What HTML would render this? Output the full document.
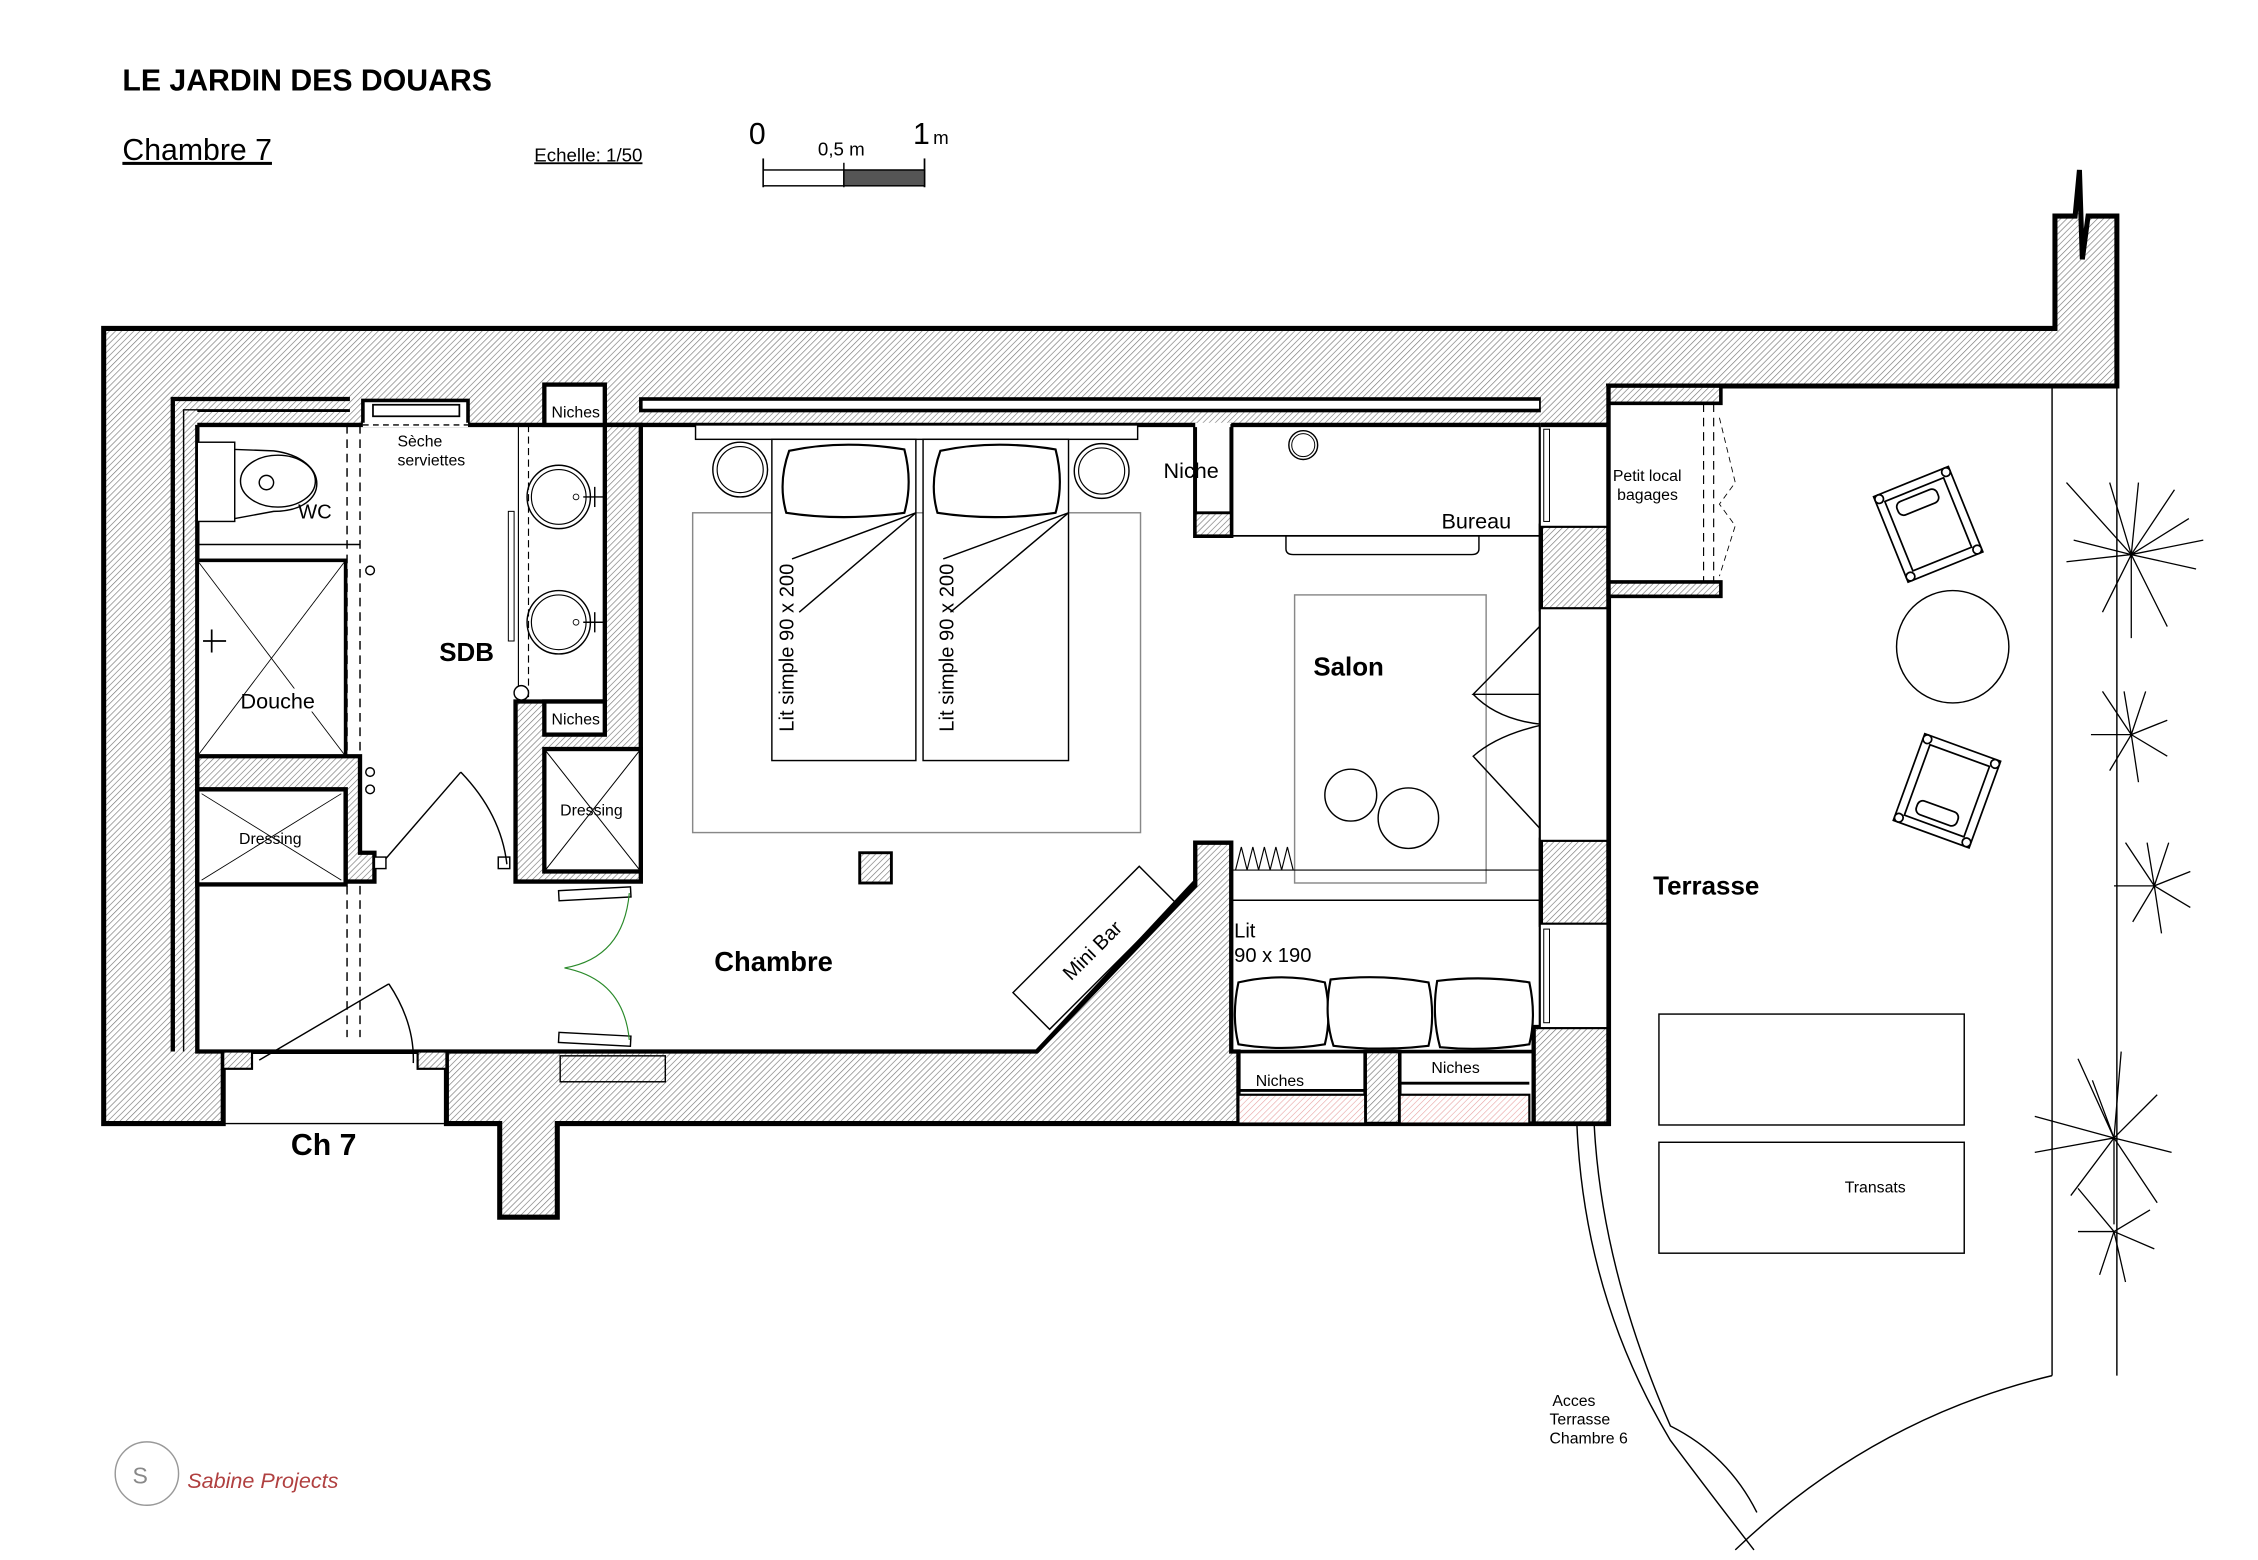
<!DOCTYPE html>
<html><head><meta charset="utf-8"><style>
html,body{margin:0;padding:0;background:#fff}
svg{display:block}
text{font-family:"Liberation Sans",Arial,sans-serif;fill:#000}
</style></head><body>
<svg width="2258" height="1560" viewBox="0 0 1568 1083" preserveAspectRatio="none" xmlns="http://www.w3.org/2000/svg">
<defs>
<pattern id="h" width="3" height="3" patternUnits="userSpaceOnUse" patternTransform="rotate(45)">
<rect width="3" height="3" fill="#fff"/><line x1="0" y1="0" x2="0" y2="3" stroke="#777" stroke-width="0.9"/>
</pattern>
<pattern id="p" width="3" height="3" patternUnits="userSpaceOnUse" patternTransform="rotate(45)">
<rect width="3" height="3" fill="#fff"/><line x1="0" y1="0" x2="0" y2="3" stroke="#e8a0a0" stroke-width="0.8"/>
</pattern>
</defs>

<text x="85" y="63" font-size="21" font-weight="bold">LE JARDIN DES DOUARS</text>
<text x="85" y="111" font-size="21" text-decoration="underline">Chambre 7</text>
<text x="371" y="112" font-size="13" text-decoration="underline">Echelle: 1/50</text>
<text x="520" y="100" font-size="21">0</text>
<text x="634" y="100" font-size="21">1</text>
<text x="648" y="100" font-size="13">m</text>
<text x="568" y="108" font-size="13">0,5 m</text>
<line x1="530" y1="110" x2="530" y2="130" stroke="#000" stroke-width="1.2"/>
<line x1="586" y1="113" x2="586" y2="130" stroke="#000" stroke-width="1"/>
<line x1="642" y1="110" x2="642" y2="130" stroke="#000" stroke-width="1.2"/>
<rect x="530" y="118" width="56" height="11" fill="#fff" stroke="#000" stroke-width="1"/>
<rect x="586" y="118" width="56" height="11" fill="#555" stroke="#000" stroke-width="1"/>

<polygon points="72,228 1427,228 1427,150 1441,150 1444,118 1446,180 1450,150 1470,150 1470,268 1117,268 1117,780 387,780 387,845 347,845 347,780 310,780 310,730 155,730 155,780 72,780" fill="url(#h)" stroke="#000" stroke-width="3.5"/>

<polygon points="128,295 445,295 830,295 830,372 855,372 855,295 1070,295 1070,730 1065,730 1065,780 860,780 860,730 855,730 855,585 830,585 830,615 720,730 310,730 155,730 137,730 137,295" fill="#fff" stroke="#000" stroke-width="3"/>
<polyline points="120,730 120,277 243,277" fill="none" stroke="#000" stroke-width="3"/>
<polyline points="128,730 128,285 243,285" fill="none" stroke="#000" stroke-width="2"/>
<rect x="128" y="285" width="9" height="445" fill="url(#h)"/>
<line x1="137" y1="295" x2="137" y2="730" stroke="#000" stroke-width="3"/>
<rect x="445" y="277" width="625" height="8" fill="#fff" stroke="#000" stroke-width="2.5"/>
<rect x="252" y="278" width="73" height="17" fill="#fff" stroke="#000" stroke-width="2.5"/>
<rect x="259" y="281" width="60" height="8" fill="#fff" stroke="#000" stroke-width="1.2"/>
<line x1="252" y1="295" x2="325" y2="295" stroke="#fff" stroke-width="3"/>
<line x1="252" y1="295" x2="325" y2="295" stroke="#000" stroke-width="1" stroke-dasharray="4,3"/>

<polygon points="420,295 445,295 445,612 358,612 358,487 420,487" fill="url(#h)" stroke="#000" stroke-width="3"/>
<rect x="378" y="267" width="42" height="28" fill="#fff" stroke="#000" stroke-width="3"/>
<rect x="378" y="487" width="42" height="23" fill="#fff" stroke="#000" stroke-width="3"/>
<rect x="378" y="520" width="67" height="85" fill="#fff" stroke="#000" stroke-width="3"/>
<line x1="378" y1="520" x2="445" y2="605" stroke="#000" stroke-width="0.7"/>
<line x1="445" y1="520" x2="378" y2="605" stroke="#000" stroke-width="0.7"/>
<text x="383" y="290" font-size="11">Niches</text>
<text x="383" y="503" font-size="11">Niches</text>
<text x="389" y="566" font-size="11">Dressing</text>
<circle cx="388" cy="345" r="22" fill="none" stroke="#000" stroke-width="1"/><circle cx="388" cy="345" r="19" fill="none" stroke="#000" stroke-width="0.8"/>
<circle cx="388" cy="432" r="22" fill="none" stroke="#000" stroke-width="1"/><circle cx="388" cy="432" r="19" fill="none" stroke="#000" stroke-width="0.8"/>
<circle cx="400" cy="345" r="2" fill="none" stroke="#000" stroke-width="0.6"/><circle cx="400" cy="432" r="2" fill="none" stroke="#000" stroke-width="0.6"/>
<line x1="405" y1="345" x2="420" y2="345" stroke="#000"/><line x1="413" y1="338" x2="413" y2="352" stroke="#000"/>
<line x1="405" y1="432" x2="420" y2="432" stroke="#000"/><line x1="413" y1="425" x2="413" y2="439" stroke="#000"/>
<line x1="360" y1="295" x2="360" y2="480" stroke="#000" stroke-width="0.8"/>
<line x1="367" y1="295" x2="367" y2="487" stroke="#000" stroke-width="0.8" stroke-dasharray="5,3"/>
<rect x="353" y="355" width="4" height="90" fill="none" stroke="#000" stroke-width="0.7"/>
<circle cx="362" cy="481" r="5" fill="#fff" stroke="#000" stroke-width="1"/>
<text x="305" y="459" font-size="18" font-weight="bold">SDB</text>

<rect x="137" y="307" width="26" height="55" fill="#fff" stroke="#000" stroke-width="1"/>
<path d="M163,312 L190,313 C230,318 230,355 190,355 L163,360" fill="none" stroke="#000" stroke-width="1"/>
<ellipse cx="193" cy="334" rx="26" ry="18" fill="none" stroke="#000" stroke-width="1"/>
<circle cx="185" cy="335" r="5" fill="none" stroke="#000" stroke-width="1"/>
<text x="207" y="360" font-size="14">WC</text>
<line x1="241" y1="295" x2="241" y2="720" stroke="#000" stroke-width="1" stroke-dasharray="6,4"/>
<line x1="250" y1="295" x2="250" y2="720" stroke="#000" stroke-width="1" stroke-dasharray="6,4"/>
<text x="276" y="310" font-size="11">Sèche</text>
<text x="276" y="323" font-size="11">serviettes</text>
<line x1="137" y1="378" x2="250" y2="378" stroke="#000" stroke-width="1"/>
<rect x="137" y="389" width="103" height="136" fill="#fff" stroke="#000" stroke-width="2.5"/>
<line x1="137" y1="389" x2="240" y2="525" stroke="#000" stroke-width="0.6"/>
<line x1="240" y1="389" x2="137" y2="525" stroke="#000" stroke-width="0.6"/>
<line x1="141" y1="445" x2="157" y2="445" stroke="#000" stroke-width="1.2"/><line x1="147" y1="437" x2="147" y2="453" stroke="#000" stroke-width="1.2"/>
<rect x="175" y="478" width="48" height="16" fill="#fff"/>
<text x="167" y="492" font-size="15">Douche</text>
<circle cx="257" cy="396" r="3" fill="none" stroke="#000"/>
<circle cx="257" cy="536" r="3" fill="none" stroke="#000"/><circle cx="257" cy="548" r="3" fill="none" stroke="#000"/>
<polygon points="137,525 250,525 250,592 260,592 260,612 240,612 240,548 137,548" fill="url(#h)" stroke="#000" stroke-width="3"/>
<rect x="137" y="548" width="103" height="66" fill="#fff" stroke="#000" stroke-width="3"/>
<line x1="140" y1="551" x2="237" y2="611" stroke="#000" stroke-width="0.6"/><line x1="237" y1="551" x2="140" y2="611" stroke="#000" stroke-width="0.6"/>
<text x="166" y="586" font-size="11">Dressing</text>
<rect x="260" y="595" width="8" height="8" fill="#fff" stroke="#000" stroke-width="1"/>
<rect x="346" y="595" width="8" height="8" fill="#fff" stroke="#000" stroke-width="1"/>
<line x1="268" y1="596" x2="320" y2="536" stroke="#000" stroke-width="1"/>
<path d="M320,536 Q348,565 352,600" fill="none" stroke="#000" stroke-width="1"/>

<rect x="155" y="730" width="20" height="12" fill="url(#h)" stroke="#000" stroke-width="1.5"/>
<rect x="290" y="730" width="20" height="12" fill="url(#h)" stroke="#000" stroke-width="1.5"/>
<line x1="180" y1="736" x2="270" y2="683" stroke="#000" stroke-width="1"/>
<path d="M270,683 Q288,710 287,738" fill="none" stroke="#000" stroke-width="1"/>
<line x1="155" y1="780" x2="310" y2="780" stroke="#000" stroke-width="1"/>
<text x="202" y="802" font-size="21" font-weight="bold">Ch 7</text>

<rect x="388" y="617" width="50" height="7" fill="#fff" stroke="#000" stroke-width="1" transform="rotate(-3 413 620)"/>
<rect x="388" y="718" width="50" height="7" fill="#fff" stroke="#000" stroke-width="1" transform="rotate(3 413 721)"/>
<path d="M437,620 Q433,665 392,672 Q433,680 437,722" fill="none" stroke="#2a8a2a" stroke-width="0.8"/>
<rect x="389" y="733" width="73" height="18" fill="none" stroke="#000" stroke-width="1"/>

<rect x="481" y="356" width="311" height="222" fill="none" stroke="#888" stroke-width="1"/>
<rect x="483" y="295" width="307" height="10" fill="#fff" stroke="#000" stroke-width="1"/>
<rect x="536" y="305" width="100" height="223" fill="#fff" stroke="#000" stroke-width="1"/>
<rect x="641" y="305" width="101" height="223" fill="#fff" stroke="#000" stroke-width="1"/>
<path d="M548,313 Q585,305 628,312 Q634,335 628,356 Q585,362 546,356 Q540,335 548,313Z" fill="#fff" stroke="#000" stroke-width="1.5"/>
<path d="M653,313 Q690,305 733,312 Q739,335 733,356 Q690,362 651,356 Q645,335 653,313Z" fill="#fff" stroke="#000" stroke-width="1.5"/>
<polyline points="550,388 636,356 555,425 636,356" fill="none" stroke="#000" stroke-width="1"/>
<polyline points="655,388 742,356 660,425 742,356" fill="none" stroke="#000" stroke-width="1"/>
<circle cx="514" cy="326" r="19" fill="none" stroke="#000" stroke-width="1"/><circle cx="514" cy="326" r="16" fill="none" stroke="#000" stroke-width="0.8"/>
<circle cx="765" cy="327" r="19" fill="none" stroke="#000" stroke-width="1"/><circle cx="765" cy="327" r="16" fill="none" stroke="#000" stroke-width="0.8"/>
<text transform="translate(551,508) rotate(-90)" font-size="14">Lit simple 90 x 200</text>
<text transform="translate(662,508) rotate(-90)" font-size="14">Lit simple 90 x 200</text>
<rect x="597" y="592" width="22" height="21" fill="url(#h)" stroke="#000" stroke-width="2"/>
<text x="496" y="674" font-size="19" font-weight="bold">Chambre</text>
<g transform="translate(760,658) rotate(-45)">
<rect x="-62" y="-18" width="124" height="36" fill="#fff" stroke="#000" stroke-width="1"/>
<text x="-28" y="5" font-size="14">Mini Bar</text>
</g>
<line x1="830" y1="612" x2="720" y2="730" stroke="#000" stroke-width="3"/>

<rect x="830" y="295" width="25" height="77" fill="#fff" stroke="#000" stroke-width="2.5"/>
<line x1="830" y1="295" x2="855" y2="295" stroke="#fff" stroke-width="3"/>
<rect x="830" y="356" width="25" height="16" fill="url(#h)" stroke="#000" stroke-width="2"/>
<text x="808" y="332" font-size="15">Niche</text>
<rect x="855" y="295" width="215" height="77" fill="none" stroke="#000" stroke-width="1.2"/>
<path d="M893,372 L893,381 Q893,385 898,385 L1022,385 Q1027,385 1027,381 L1027,372" fill="none" stroke="#000" stroke-width="1"/>
<circle cx="905" cy="309" r="10" fill="none" stroke="#000" stroke-width="1"/><circle cx="905" cy="309" r="8" fill="none" stroke="#000" stroke-width="0.7"/>
<text x="1001" y="367" font-size="15">Bureau</text>
<rect x="899" y="413" width="133" height="200" fill="none" stroke="#888" stroke-width="1"/>
<text x="912" y="469" font-size="18" font-weight="bold">Salon</text>
<circle cx="938" cy="552" r="18" fill="none" stroke="#000" stroke-width="1"/>
<circle cx="978" cy="568" r="21" fill="#fff" stroke="#000" stroke-width="1"/>
<polyline points="858,604 862,588 866,604 870,588 874,604 878,588 882,604 886,588 890,604 894,588 898,604" fill="none" stroke="#000" stroke-width="0.8"/>
<line x1="855" y1="604" x2="1070" y2="604" stroke="#000" stroke-width="0.8"/>
<line x1="855" y1="625" x2="1070" y2="625" stroke="#000" stroke-width="1"/>
<polyline points="1077,423 1072,432 1023,482 1072,482" fill="none" stroke="#000" stroke-width="1"/>
<path d="M1023,482 Q1040,500 1072,503 Q1040,510 1023,525 L1072,578 L1077,585" fill="none" stroke="#000" stroke-width="1"/>
<text x="857" y="651" font-size="14">Lit</text>
<text x="857" y="668" font-size="14">90 x 190</text>
<path d="M860,682 Q890,675 920,682 Q925,705 920,725 Q890,730 860,725 Q855,705 860,682Z" fill="#fff" stroke="#000" stroke-width="1.5"/>
<path d="M924,680 Q958,676 992,682 Q997,705 992,726 Q958,730 926,726 Q919,705 924,680Z" fill="#fff" stroke="#000" stroke-width="1.5"/>
<path d="M998,681 Q1030,677 1062,682 Q1067,705 1062,725 Q1030,730 1000,727 Q994,705 998,681Z" fill="#fff" stroke="#000" stroke-width="1.5"/>
<line x1="855" y1="730" x2="1070" y2="730" stroke="#000" stroke-width="2.5"/>
<rect x="948" y="730" width="24" height="50" fill="url(#h)" stroke="#000" stroke-width="2.5"/>
<rect x="860" y="760" width="88" height="20" fill="url(#p)" stroke="#000" stroke-width="1.5"/>
<rect x="972" y="760" width="90" height="20" fill="url(#p)" stroke="#000" stroke-width="1.5"/>
<line x1="860" y1="757" x2="948" y2="757" stroke="#000" stroke-width="2"/>
<line x1="972" y1="752" x2="1062" y2="752" stroke="#000" stroke-width="2"/>
<text x="872" y="754" font-size="11">Niches</text>
<text x="994" y="745" font-size="11">Niches</text>

<rect x="1070" y="268" width="47" height="27" fill="url(#h)"/>
<line x1="1070" y1="295" x2="1117" y2="295" stroke="#000" stroke-width="3"/>
<rect x="1070" y="365" width="47" height="58" fill="url(#h)" stroke="#000" stroke-width="3"/>
<rect x="1070" y="583" width="47" height="59" fill="url(#h)" stroke="#000" stroke-width="3"/>
<rect x="1065" y="713" width="52" height="67" fill="url(#h)" stroke="#000" stroke-width="3"/>
<rect x="1070" y="295" width="47" height="70" fill="#fff"/>
<rect x="1070" y="423" width="47" height="160" fill="#fff"/>
<rect x="1070" y="642" width="47" height="71" fill="#fff"/>
<line x1="1070" y1="295" x2="1117" y2="295" stroke="#000" stroke-width="3"/>
<line x1="1117" y1="268" x2="1117" y2="780" stroke="#000" stroke-width="3"/>
<rect x="1072" y="298" width="4" height="64" fill="none" stroke="#000" stroke-width="0.7"/>
<rect x="1072" y="645" width="4" height="65" fill="none" stroke="#000" stroke-width="0.7"/>
<rect x="1117" y="268" width="78" height="142" fill="#fff"/>
<rect x="1117" y="268" width="78" height="12" fill="url(#h)" stroke="#000" stroke-width="2.5"/>
<rect x="1117" y="404" width="78" height="10" fill="url(#h)" stroke="#000" stroke-width="2.5"/>
<line x1="1117" y1="268" x2="1117" y2="414" stroke="#000" stroke-width="3"/>
<line x1="1183" y1="280" x2="1183" y2="404" stroke="#000" stroke-width="0.8" stroke-dasharray="6,4"/>
<line x1="1190" y1="280" x2="1190" y2="404" stroke="#000" stroke-width="0.8" stroke-dasharray="6,4"/>
<polyline points="1194,290 1205,335 1194,350 1205,365 1194,400" fill="none" stroke="#000" stroke-width="0.6" stroke-dasharray="4,3"/>
<text x="1120" y="334" font-size="11">Petit local</text>
<text x="1123" y="347" font-size="11">bagages</text>

<line x1="1425" y1="268" x2="1425" y2="955" stroke="#000" stroke-width="1"/>
<line x1="1470" y1="268" x2="1470" y2="955" stroke="#000" stroke-width="1"/>
<path d="M1425,955 Q1300,985 1205,1076" fill="none" stroke="#000" stroke-width="1"/>
<path d="M1095,780 Q1100,900 1160,1000 Q1190,1040 1218,1076" fill="none" stroke="#000" stroke-width="1"/>
<path d="M1107,780 Q1112,880 1160,990 Q1200,1010 1220,1050" fill="none" stroke="#000" stroke-width="1"/>
<text x="1148" y="621" font-size="18" font-weight="bold">Terrasse</text>
<rect x="1152" y="704" width="212" height="77" fill="none" stroke="#000" stroke-width="1"/>
<rect x="1152" y="793" width="212" height="77" fill="none" stroke="#000" stroke-width="1"/>
<text x="1281" y="828" font-size="11">Transats</text>
<text x="1078" y="976" font-size="11">Acces</text>
<text x="1076" y="989" font-size="11">Terrasse</text>
<text x="1076" y="1002" font-size="11">Chambre 6</text>
<circle cx="1356" cy="449" r="39" fill="none" stroke="#000" stroke-width="1"/>
<g transform="translate(1339,364) rotate(-22)" fill="none" stroke="#000" stroke-width="1.2">
<rect x="-28" y="-32" width="56" height="64"/><rect x="-22" y="-26" width="44" height="52"/>
<rect x="-16" y="-22" width="30" height="10" rx="4"/>
<circle cx="-25" cy="-29" r="3" fill="#fff"/><circle cx="25" cy="-29" r="3" fill="#fff"/><circle cx="-25" cy="29" r="3" fill="#fff"/><circle cx="25" cy="29" r="3" fill="#fff"/>
</g>
<g transform="translate(1352,549) rotate(20)" fill="none" stroke="#000" stroke-width="1.2">
<rect x="-28" y="-32" width="56" height="64"/><rect x="-22" y="-26" width="44" height="52"/>
<rect x="-16" y="12" width="30" height="10" rx="4"/>
<circle cx="-25" cy="-29" r="3" fill="#fff"/><circle cx="25" cy="-29" r="3" fill="#fff"/><circle cx="-25" cy="29" r="3" fill="#fff"/><circle cx="25" cy="29" r="3" fill="#fff"/>
</g>
<g fill="none" stroke="#000" stroke-width="0.9">
<path d="M1480,385 l-45,-50 M1480,385 l-40,-10 M1480,385 l-45,5 M1480,385 l-20,40 M1480,385 l0,58 M1480,385 l25,50 M1480,385 l45,10 M1480,385 l40,-25 M1480,385 l30,-45 M1480,385 l5,-50 M1480,385 l-15,-50 M1480,385 l50,-10"/>
<path d="M1480,510 l-20,-30 M1480,510 l-28,0 M1480,510 l-15,25 M1480,510 l5,33 M1480,510 l25,15 M1480,510 l25,-10 M1480,510 l10,-30 M1480,510 l-5,-30"/>
<path d="M1496,615 l-20,-30 M1496,615 l-28,0 M1496,615 l-15,25 M1496,615 l5,33 M1496,615 l25,15 M1496,615 l25,-10 M1496,615 l10,-30 M1496,615 l-5,-30"/>
<path d="M1468,790 l-25,-55 M1468,790 l-55,-15 M1468,790 l-55,10 M1468,790 l-30,40 M1468,790 l0,60 M1468,790 l30,45 M1468,790 l40,10 M1468,790 l30,-30 M1468,790 l5,-60 M1468,790 l-15,-40"/>
<path d="M1468,855 l-25,-30 M1468,855 l-25,0 M1468,855 l-10,30 M1468,855 l8,35 M1468,855 l28,12 M1468,855 l25,-15"/>
</g>
<circle cx="102" cy="1023" r="22" fill="none" stroke="#999" stroke-width="1"/>
<text x="92" y="1030" font-size="16" style="fill:#888">S</text>
<text x="130" y="1033" font-size="15" font-style="italic" style="fill:#b04040" font-family="Liberation Serif,serif">Sabine Projects</text>
</svg>
</body></html>
